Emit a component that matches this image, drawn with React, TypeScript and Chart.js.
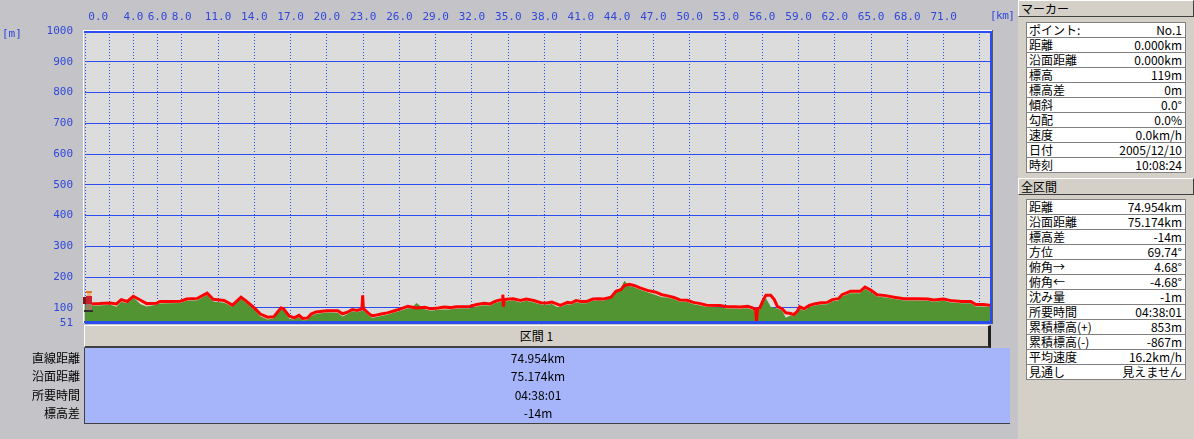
import React, { useEffect, useRef } from "react";
import { Chart, registerables } from "chart.js";

Chart.register(...registerables);

// ---- data ----
const distKm = [
  0.0, 0.4, 1.2, 2.1, 2.6, 3.0, 3.5, 4.0, 4.6, 5.1, 5.9, 6.2, 7.0, 7.9, 8.4, 9.3, 10.1, 10.6, 11.5, 12.2,
  12.9, 13.4, 14.0, 14.5, 15.1, 15.6, 16.2, 16.4, 16.9, 17.3, 17.7, 18.0, 18.4, 18.7, 19.1, 20.0, 20.9, 21.3, 21.7, 22.1,
  22.5, 22.9, 22.96, 23.02, 23.4, 23.7, 23.9, 24.5, 25.0, 25.6, 26.1, 26.7, 27.0, 27.4, 28.1, 28.6, 29.2, 29.7, 30.2, 30.7,
  31.8, 32.4, 33.0, 33.5, 33.9, 34.3, 34.5, 34.55, 34.6, 34.65, 34.9, 35.4, 36.0, 36.5, 37.1, 37.7, 38.2, 38.6, 39.0, 39.3,
  39.9, 40.2, 40.6, 41.0, 41.5, 42.0, 42.5, 42.9, 43.5, 43.9, 44.3, 44.6, 45.0, 45.4, 45.9, 46.5, 47.2, 47.7, 48.1, 48.7,
  49.2, 49.8, 50.3, 50.9, 51.4, 52.5, 53.1, 53.7, 54.2, 54.8, 55.2, 55.45, 55.53, 55.61, 55.8, 56.1, 56.3, 56.7, 57.0, 57.25,
  57.65, 57.95, 58.35, 58.6, 58.9, 59.1, 59.45, 59.9, 60.3, 60.85, 61.4, 61.8, 62.3, 62.6, 63.3, 64.1, 64.5, 65.0, 65.5, 66.2,
  66.9, 67.7, 68.8, 69.7, 70.2, 71.0, 71.7, 72.5, 73.25, 73.65, 74.3, 74.95,
];

// GPS elevation (red line), metres
const gpsElevation = [
  119, 113, 114, 116, 113, 127, 121, 138, 125, 114, 115, 121, 121, 122, 129, 131, 148, 128, 124, 109,
  135, 120, 100, 80, 70, 71, 100, 98, 73, 68, 76, 66, 67, 80, 87, 91, 91, 81, 86, 95,
  92, 97, 141, 98, 84, 75, 75, 80, 84, 91, 97, 105, 103, 100, 102, 97, 100, 103, 101, 104,
  105, 111, 115, 113, 121, 126, 126, 143, 104, 126, 128, 130, 124, 129, 124, 117, 116, 119, 113, 108,
  118, 116, 124, 121, 121, 129, 130, 129, 135, 154, 159, 173, 177, 173, 165, 157, 151, 143, 140, 134,
  126, 125, 118, 114, 109, 108, 104, 104, 103, 105, 100, 95, 57, 97, 100, 127, 141, 141, 127, 105,
  97, 84, 82, 78, 89, 104, 97, 108, 113, 117, 118, 127, 130, 143, 154, 154, 168, 157, 143, 140,
  135, 130, 130, 129, 126, 129, 123, 121, 121, 111, 111, 108,
];

// Map elevation (green area), metres
const mapElevation = [
  110, 107, 108, 110, 104, 120, 115, 134, 112, 105, 110, 114, 115, 116, 123, 125, 142, 121, 117, 104,
  130, 114, 94, 73, 62, 66, 96, 93, 65, 62, 70, 60, 61, 74, 80, 85, 84, 72, 80, 89,
  86, 91, 92, 91, 78, 69, 69, 74, 78, 85, 91, 99, 99, 116, 96, 91, 94, 95, 95, 98,
  99, 105, 109, 107, 115, 120, 120, 121, 121, 121, 122, 124, 118, 123, 118, 111, 110, 113, 104, 102,
  112, 110, 118, 115, 115, 123, 124, 123, 133, 152, 163, 188, 171, 167, 159, 151, 142, 135, 134, 128,
  120, 119, 112, 108, 103, 102, 98, 98, 97, 99, 94, 89, 88, 90, 96, 118, 132, 104, 100, 98,
  91, 68, 76, 72, 83, 98, 91, 102, 107, 111, 112, 121, 124, 137, 148, 148, 162, 150, 137, 134,
  129, 124, 124, 123, 120, 123, 117, 115, 115, 105, 105, 102,
];

const xTickValues = [0, 2, 4, 6, 8, 11, 14, 17, 20, 23, 26, 29, 32, 35, 38, 41, 44, 47, 50, 53, 56, 59, 62, 65, 68, 71, 74];
const xHiddenTicks = [2, 74];
const yTickValues = [51, 100, 200, 300, 400, 500, 600, 700, 800, 900, 1000];

const markerLabels = ["ポイント:", "距離", "沿面距離", "標高", "標高差", "傾斜", "勾配", "速度", "日付", "時刻"];
const markerValues = ["No.1", "0.000km", "0.000km", "119m", "0m", "0.0°", "0.0%", "0.0km/h", "2005/12/10", "10:08:24"];

const sectionLabels = ["距離", "沿面距離", "標高差", "方位", "俯角→", "俯角←", "沈み量", "所要時間", "累積標高(+)", "累積標高(-)", "平均速度", "見通し"];
const sectionValues = ["74.954km", "75.174km", "-14m", "69.74°", "4.68°", "-4.68°", "-1m", "04:38:01", "853m", "-867m", "16.2km/h", "見えません"];

const summaryHeader = "区間 1";
const summaryLabels = ["直線距離", "沿面距離", "所要時間", "標高差"];
const summaryValues = ["74.954km", "75.174km", "04:38:01", "-14m"];

// ---- styles ----
const BLUE_GRID = "#2a4cf0";
const BLUE_TEXT = "#3048da";
const OUTER_BG = "#c4c3c8";
const PANEL_BG = "#d4d0c8";
const TICK_FONT = { family: "'DejaVu Sans Mono', 'Liberation Mono', monospace", size: 11 };
const JP_FONT = "'Noto Sans CJK JP', 'Noto Sans', sans-serif";

const framePlugin = {
  id: "frame",
  beforeDraw(chart: any) {
    const { ctx, chartArea: a } = chart;
    ctx.save();
    ctx.fillStyle = "#dcdcdc";
    ctx.fillRect(a.left, a.top, a.right - a.left, a.bottom - a.top);
    ctx.restore();
  },
  afterDraw(chart: any) {
    const { ctx, chartArea: a } = chart;
    ctx.save();
    ctx.fillStyle = "#ffffff";
    ctx.fillRect(a.left - 2, a.top - 1, 1, a.bottom - a.top + 1);
    ctx.fillRect(a.left - 2, a.top - 1, a.right - a.left + 2, 1);
    ctx.fillStyle = BLUE_GRID;
    ctx.fillRect(a.left - 1, a.top, a.right - a.left + 1, 2);
    ctx.fillRect(a.right - 2, a.top, 2, a.bottom - a.top);
    ctx.fillRect(a.left - 1, a.bottom - 2, a.right - a.left + 1, 2);
    ctx.fillStyle = "#5a5a5a";
    ctx.fillRect(a.right, a.top - 1, 1, a.bottom - a.top + 2);
    ctx.restore();
  },
};

function InfoTable({ top, labels, values }: { top: number; labels: string[]; values: string[] }) {
  return (
    <div
      style={{
        position: "absolute",
        left: 8,
        top,
        width: 160,
        border: "1px solid #808080",
        borderBottom: "none",
        background: "#ffffff",
        boxSizing: "border-box",
      }}
    >
      {labels.map((l, i) => (
        <div
          key={i}
          style={{
            height: 15,
            boxSizing: "border-box",
            borderBottom: "1px solid #808080",
            display: "flex",
            justifyContent: "space-between",
            alignItems: "center",
            padding: "0 3px 0 2px",
            fontSize: 12,
            lineHeight: "14px",
            color: "#000",
            whiteSpace: "nowrap",
          }}
        >
          <span>{l}</span>
          <span>{values[i]}</span>
        </div>
      ))}
    </div>
  );
}

function TitleBar({ top, text }: { top: number; text: string }) {
  return (
    <div
      style={{
        position: "absolute",
        left: 0,
        top,
        width: 176,
        height: 17,
        boxSizing: "border-box",
        background: PANEL_BG,
        borderTop: "1px solid #ffffff",
        borderLeft: "1px solid #ffffff",
        borderBottom: "1px solid #404040",
        borderRight: "1px solid #404040",
        fontSize: 12,
        lineHeight: "15px",
        paddingLeft: 2,
        color: "#000",
      }}
    >
      {text}
    </div>
  );
}

export default function App() {
  const ref = useRef<HTMLCanvasElement>(null);

  useEffect(() => {
    const chart = new Chart(ref.current as HTMLCanvasElement, {
      type: "line",
      data: {
        datasets: [
          {
            label: "GPS",
            data: distKm.map((d, i) => ({ x: d, y: gpsElevation[i] })),
            borderColor: "#ff0000",
            borderWidth: 3,
            pointRadius: 0,
            fill: false,
            tension: 0,
            order: 0,
          },
          {
            label: "Map",
            data: distKm.map((d, i) => ({ x: d, y: mapElevation[i] })),
            borderColor: "rgba(0,0,0,0)",
            borderWidth: 1,
            backgroundColor: "#529432",
            pointRadius: 0,
            fill: "start",
            tension: 0,
            order: 1,
          },
        ],
      },
      options: {
        responsive: false,
        animation: false,
        events: [],
        layout: { padding: { left: 0, right: 20, top: 0, bottom: 7 } },
        plugins: { legend: { display: false }, tooltip: { enabled: false } },
        scales: {
          x: {
            type: "linear",
            position: "top",
            min: 0,
            max: 75,
            afterBuildTicks: (s: any) => {
              s.ticks = xTickValues.map((v) => ({ value: v }));
            },
            afterFit: (s: any) => {
              s.height = 31;
              s.paddingLeft = 0;
              s.paddingRight = 0;
            },
            ticks: {
              autoSkip: false,
              maxRotation: 0,
              minRotation: 0,
              color: BLUE_TEXT,
              font: TICK_FONT,
              padding: 7,
              callback: (v: any) => {
                const n = Number(v);
                if (xHiddenTicks.includes(n)) return "";
                return n === 0 ? "    0.0" : n.toFixed(1);
              },
            },
            grid: { color: BLUE_GRID, lineWidth: 1, drawTicks: false },
            border: { display: false, dash: [1, 2] },
          },
          y: {
            type: "linear",
            min: 51,
            max: 1000,
            afterBuildTicks: (s: any) => {
              s.ticks = yTickValues.map((v) => ({ value: v }));
            },
            afterFit: (s: any) => {
              s.width = 85;
              s.paddingTop = 0;
              s.paddingBottom = 0;
            },
            ticks: {
              autoSkip: false,
              color: BLUE_TEXT,
              font: TICK_FONT,
              padding: 12,
              callback: (v: any) => String(v),
            },
            grid: { color: BLUE_GRID, lineWidth: 1, drawTicks: false },
            border: { display: false },
          },
        },
      },
      plugins: [framePlugin],
    } as any);
    return () => chart.destroy();
  }, []);

  return (
    <div
      style={{
        position: "fixed",
        left: 0,
        top: 0,
        width: 1194,
        height: 439,
        background: OUTER_BG,
        overflow: "hidden",
        fontFamily: JP_FONT,
      }}
    >
      <canvas
        ref={ref}
        width={1012}
        height={330}
        style={{ position: "absolute", left: 0, top: 0, width: 1012, height: 330, display: "block" }}
      />

      {/* axis unit labels */}
      <div style={{ position: "absolute", left: 2, top: 27, fontSize: 11, color: BLUE_TEXT, fontFamily: TICK_FONT.family }}>[m]</div>
      <div style={{ position: "absolute", left: 990, top: 9, fontSize: 11, letterSpacing: -0.5, color: BLUE_TEXT, fontFamily: TICK_FONT.family, zIndex: 2 }}>[km]</div>

      {/* hiker marker */}
      <div style={{ position: "absolute", left: 86, top: 291, width: 6, height: 2, background: "#e07a30" }} />
      <div style={{ position: "absolute", left: 87, top: 293, width: 4, height: 3, background: "#f0b070" }} />
      <div style={{ position: "absolute", left: 83, top: 297, width: 4, height: 7, background: "#7a1a1a" }} />
      <div style={{ position: "absolute", left: 86, top: 296, width: 6, height: 8, background: "#c82030" }} />
      <div style={{ position: "absolute", left: 86, top: 304, width: 6, height: 6, background: "#9a8060" }} />
      <div style={{ position: "absolute", left: 84, top: 310, width: 9, height: 2, background: "#303030" }} />

      {/* summary grid header */}
      <div
        style={{
          position: "absolute",
          left: 84,
          top: 325,
          width: 907,
          height: 23,
          boxSizing: "border-box",
          background: PANEL_BG,
          borderTop: "1px solid #ffffff",
          borderLeft: "1px solid #ffffff",
          borderBottom: "2px solid #404040",
          borderRight: "3px solid #202020",
          textAlign: "center",
          fontSize: 12,
          lineHeight: "20px",
          color: "#000",
        }}
      >
        {summaryHeader}
      </div>
      {/* summary grid body */}
      <div
        style={{
          position: "absolute",
          left: 84,
          top: 348,
          width: 926,
          height: 76,
          boxSizing: "border-box",
          background: "#a6b4fa",
          borderLeft: "1px solid #404040",
          borderBottom: "1px solid #404040",
        }}
      >
        {summaryValues.map((v, i) => (
          <div
            key={i}
            style={{
              position: "absolute",
              left: 0,
              width: 906,
              top: 1 + i * 18.3,
              height: 18,
              textAlign: "center",
              fontSize: 12,
              lineHeight: "18px",
              color: "#000",
            }}
          >
            {v}
          </div>
        ))}
      </div>
      {summaryLabels.map((l, i) => (
        <div
          key={i}
          style={{
            position: "absolute",
            left: 0,
            width: 80,
            top: 349 + i * 18.3,
            height: 18,
            textAlign: "right",
            fontSize: 12,
            lineHeight: "18px",
            color: "#000",
          }}
        >
          {l}
        </div>
      ))}

      {/* right panel */}
      <div style={{ position: "absolute", left: 1018, top: 0, width: 176, height: 439, background: PANEL_BG }}>
        <TitleBar top={0} text="マーカー" />
        <InfoTable top={22} labels={markerLabels} values={markerValues} />
        <TitleBar top={178} text="全区間" />
        <InfoTable top={199} labels={sectionLabels} values={sectionValues} />
      </div>
    </div>
  );
}
